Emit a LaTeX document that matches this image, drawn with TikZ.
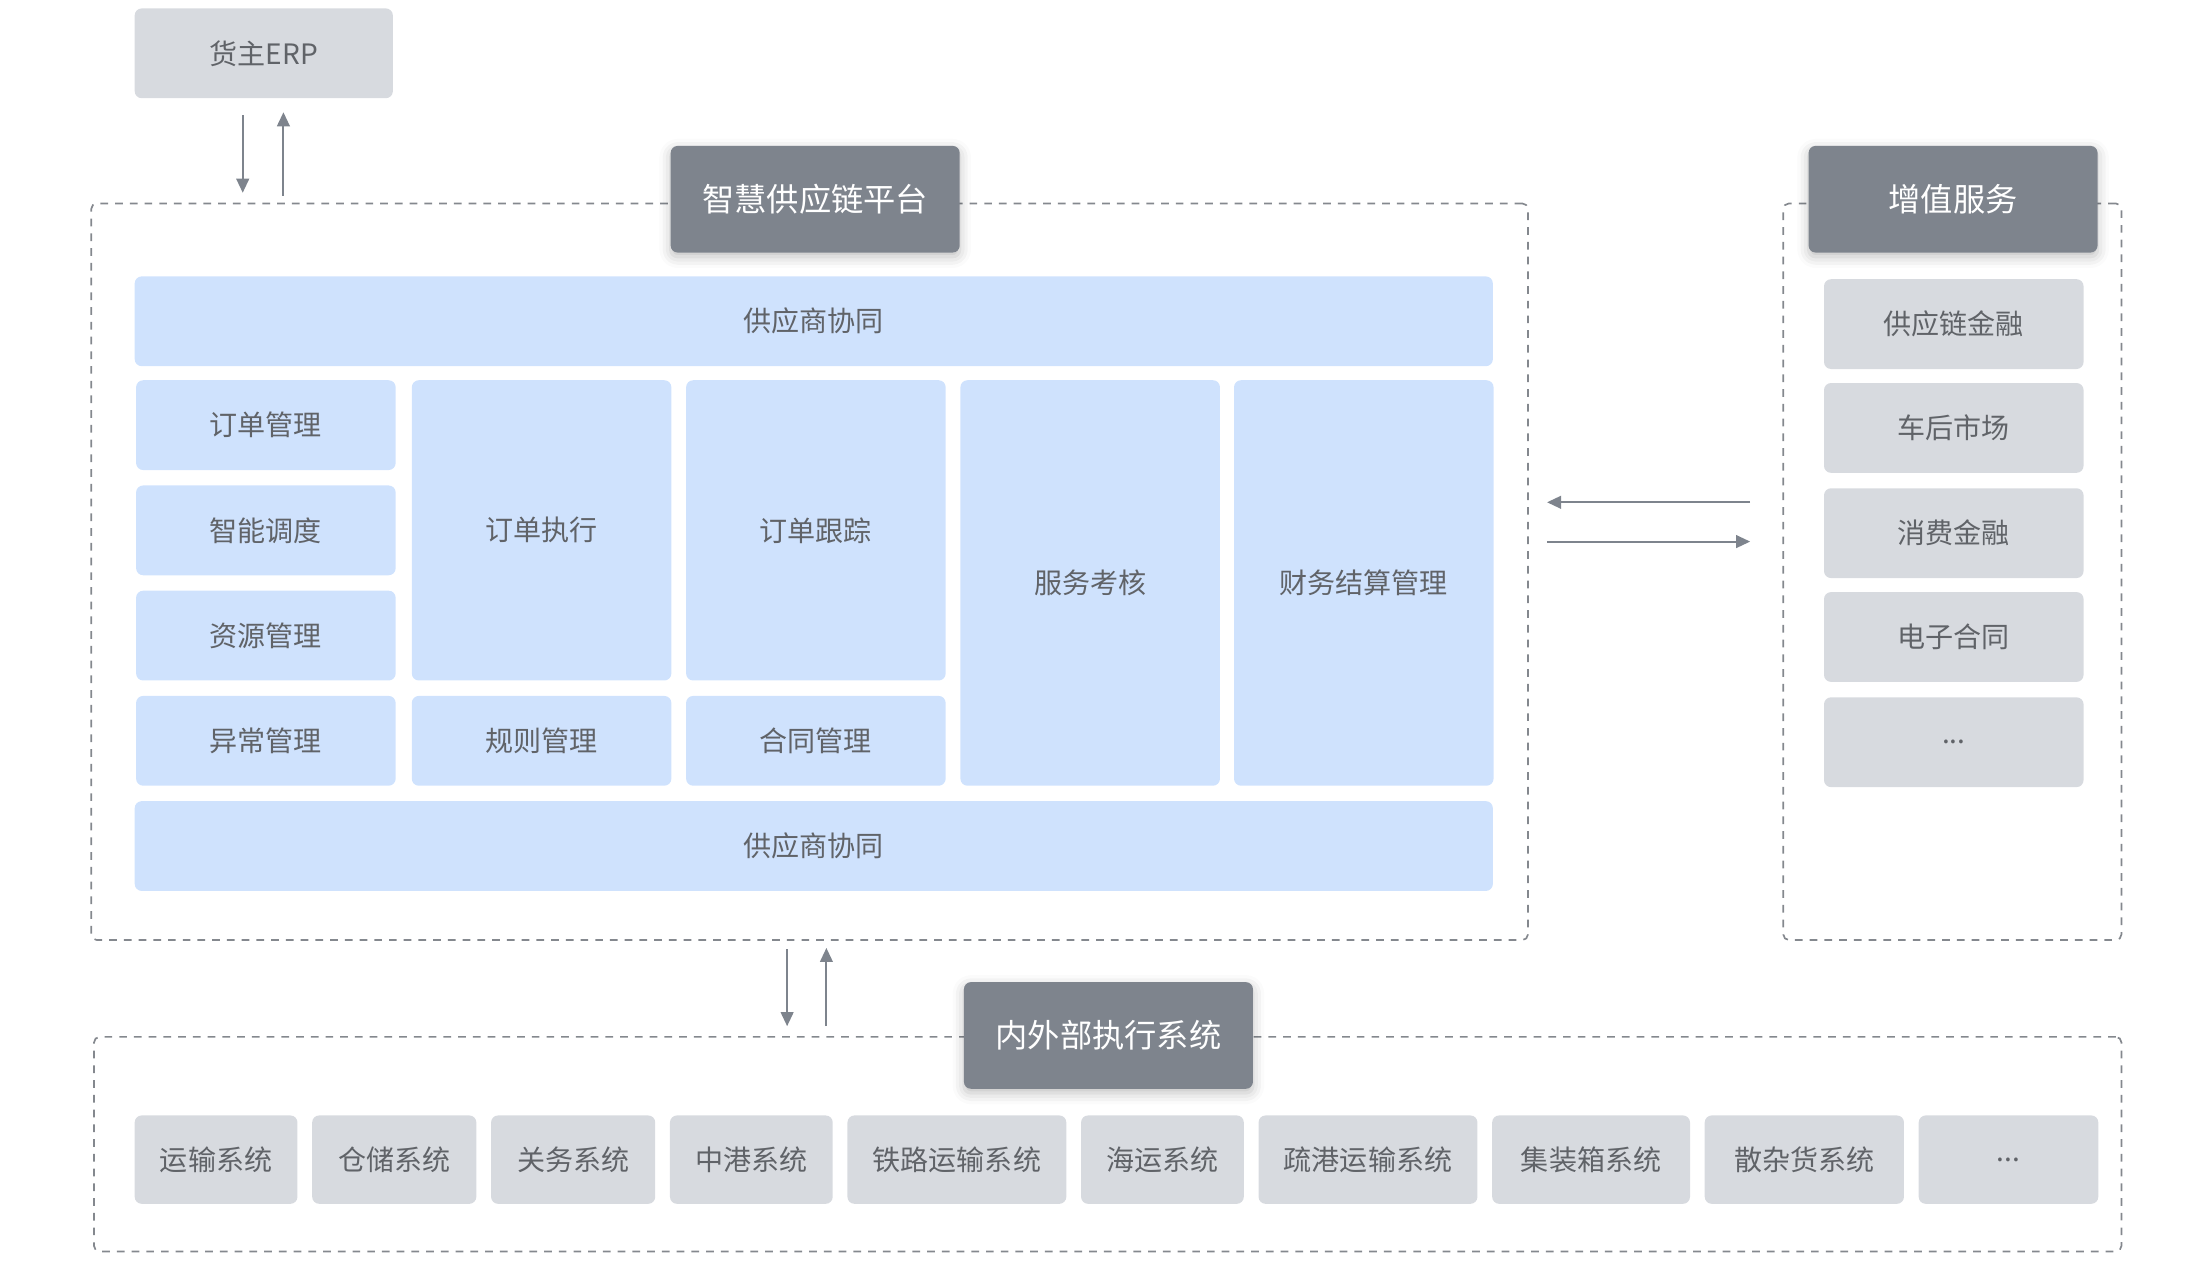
\documentclass[tikz,border=0pt]{standalone}
\usepackage{fontspec}
\setmainfont{Noto Sans CJK SC}
\usetikzlibrary{arrows.meta,positioning,shadows.blur}
\definecolor{kblue}{HTML}{CFE2FD}
\definecolor{kgray}{HTML}{D7DADF}
\definecolor{khead}{HTML}{7E848D}
\definecolor{ktext}{HTML}{606368}
\definecolor{kline}{HTML}{84888E}
\newcommand{\kdots}{...}
\begin{document}
\begin{tikzpicture}[x=1pt,y=-1pt,
bbox/.style={fill=kblue,rounded corners=5pt,inner sep=0pt,outer sep=0pt,text=ktext,font=\fontsize{20pt}{24pt}\selectfont},
gbox/.style={bbox,fill=kgray},
head/.style={fill=khead,rounded corners=5pt,inner sep=0pt,text=white,minimum width=206pt,minimum height=76pt,font=\fontsize{23pt}{27pt}\selectfont,blur shadow={shadow xshift=0pt,shadow yshift=-3pt,shadow blur radius=8pt,shadow opacity=25}},
frame/.style={draw=kline,dash pattern=on 5.5pt off 5pt,line width=1.2pt,rounded corners=4pt,inner sep=0pt},
arr/.style={draw=khead,line width=1.5pt,-{Triangle[width=9pt,length=10pt]}}]
\useasboundingbox (0,0) rectangle (1568,912);
\pgfmathsetmacro{\kboxw}{185}
\pgfmathsetmacro{\kboxh}{64}
\node[frame,minimum width=1024pt,minimum height=525pt](pf)at(577,407.5){};
\node[frame,minimum width=241pt,minimum height=525pt](vf)at(1391.5,407.5){};
\node[frame,minimum width=1445pt,minimum height=153pt](xf)at(789.5,815.5){};
\node[head](pft)at(581,142){智慧供应链平台};
\node[head](vft)at(1392,142){增值服务};
\node[head](xft)at(790,738){内外部执行系统};
\node[gbox,minimum width=184pt,minimum height=\kboxh pt](erp)at(188,38){货主ERP};
\node[bbox,minimum width=968pt,minimum height=\kboxh pt](sup1)at(580,229){供应商协同};
\node[bbox,minimum width=968pt,minimum height=\kboxh pt](sup2)at(580,603){供应商协同};
\foreach \ky/\klb [count=\i] in {303/订单管理,378/智能调度,453/资源管理,528/异常管理}{\node[bbox,minimum width=\kboxw pt,minimum height=\kboxh pt](m\i)at(189.5,\ky){\klb};}
\node[bbox,minimum width=\kboxw pt,minimum height=214pt](exe)at(386,378){订单执行};
\node[bbox,minimum width=\kboxw pt,minimum height=214pt](trk)at(581.5,378){订单跟踪};
\node[bbox,minimum width=\kboxw pt,minimum height=\kboxh pt](rule)at(386,528){规则管理};
\node[bbox,minimum width=\kboxw pt,minimum height=\kboxh pt](ctr)at(581.5,528){合同管理};
\node[bbox,minimum width=\kboxw pt,minimum height=289pt](svc)at(777,415.5){服务考核};
\node[bbox,minimum width=\kboxw pt,minimum height=289pt](fin)at(972,415.5){财务结算管理};
\foreach \ky/\klb [count=\i] in {231/供应链金融,305/车后市场,380/消费金融,454/电子合同,529/\kdots}{\node[gbox,minimum width=\kboxw pt,minimum height=\kboxh pt](v\i)at(1392.5,\ky){\klb};}
\node[gbox,minimum width=116pt,minimum height=63pt,anchor=west](x1)at(96,826.5){运输系统};
\foreach \kw/\klb [count=\i from 2] in {117/仓储系统,117/关务系统,116/中港系统,156/铁路运输系统,116/海运系统,156/疏港运输系统,141/集装箱系统,142/散杂货系统,128/\kdots}{\pgfmathtruncatemacro{\j}{\i-1}\node[gbox,minimum width=\kw pt,minimum height=63pt,right=10.5pt of x\j](x\i){\klb};}
\coordinate(ep)at(erp.south|-pf.north);
\coordinate(xp)at(pf.south|-xf.north);
\draw[arr]([xshift=-15pt,yshift=-12pt]erp.south)--([xshift=-15pt,yshift=7pt]ep);
\draw[arr]([xshift=14pt,yshift=5pt]ep)--([xshift=14pt,yshift=-10pt]erp.south);
\draw[arr]([xshift=-16pt,yshift=-6pt]pf.south)--([xshift=-16pt,yshift=7pt]xp);
\draw[arr]([xshift=12pt,yshift=7pt]xp)--([xshift=12pt,yshift=-5pt]pf.south);
\draw[arr]([xshift=-23pt,yshift=49.5pt]vf.west)--([xshift=13pt,yshift=49.5pt]pf.east);
\draw[arr]([xshift=13pt,yshift=21.5pt]pf.east)--([xshift=-23pt,yshift=21.5pt]vf.west);
\end{tikzpicture}
\end{document}
